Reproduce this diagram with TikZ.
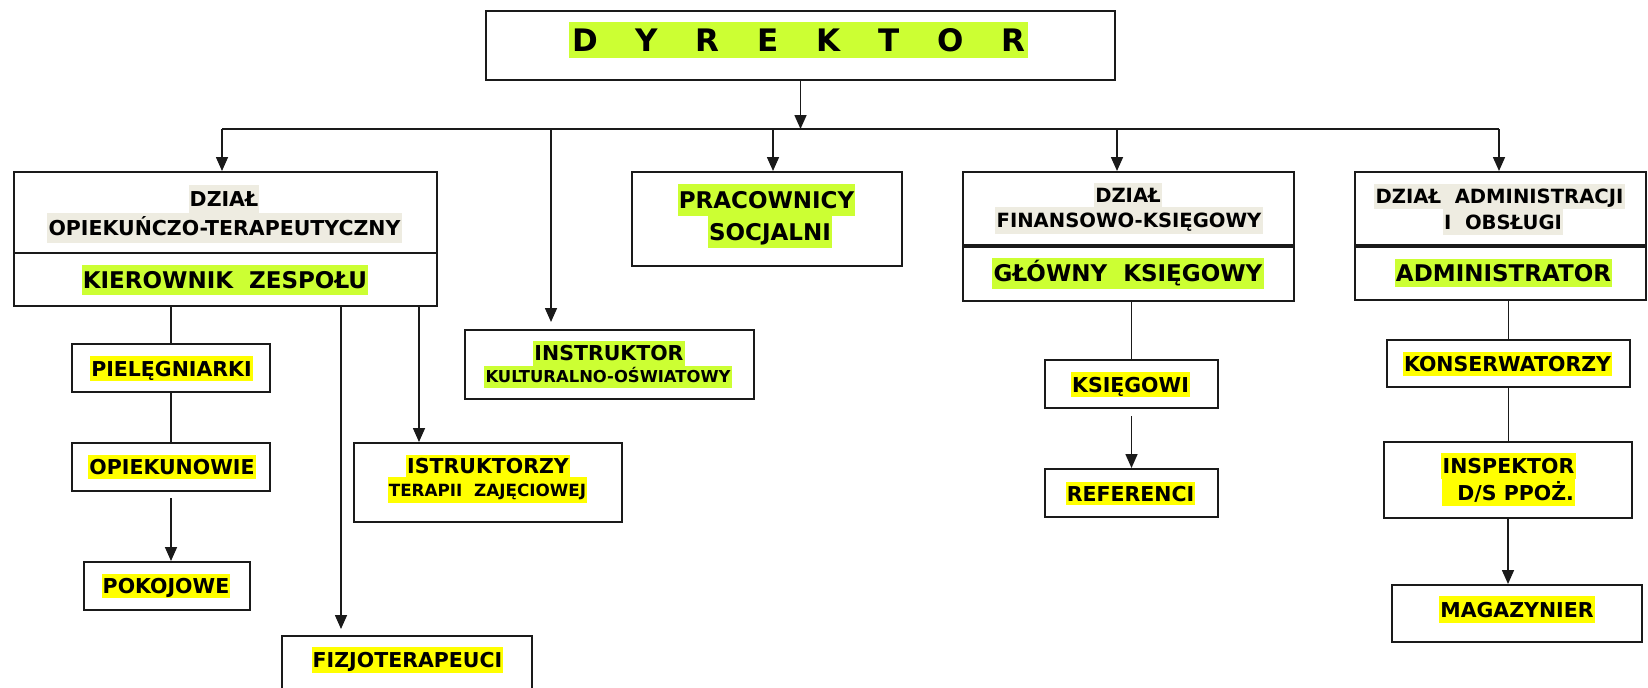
\documentclass[tikz,border=0pt]{standalone}
\usepackage{fontspec}
\setmainfont{DejaVu Sans}
\usetikzlibrary{arrows.meta,fit}
\definecolor{hlLime}{HTML}{CCFF33}
\definecolor{hlYel}{HTML}{FFFF00}
\definecolor{hlTan}{HTML}{EEECE1}
\definecolor{ink}{HTML}{1A1A1A}

\begin{document}
\begin{tikzpicture}[x=0.5pt,y=-0.5pt,
  box/.style={draw=ink, line width=1pt, inner sep=0pt},
  conn/.style={draw=ink, line width=0.8pt},
  arr/.style={conn, -{Triangle[length=7pt,width=6pt]}},
  hl/.style={inner xsep=0.6pt, inner ysep=0pt, text depth=0pt, text=black},
  hh/.style={minimum height=#1*0.5pt},
  onLime/.style={hl, fill=hlLime},
  onYel/.style={hl, fill=hlYel},
  onTan/.style={hl, fill=hlTan},
  fA/.style={font=\bfseries\fontsize{11.5pt}{13pt}\selectfont, text height=8.4pt},
  fB/.style={font=\bfseries\fontsize{10.25pt}{12pt}\selectfont, text height=7.5pt},
  fC/.style={font=\bfseries\fontsize{9.8pt}{12pt}\selectfont, text height=7.15pt},
  fD/.style={font=\bfseries\fontsize{8.4pt}{10pt}\selectfont, text height=6.1pt},
  fE/.style={font=\bfseries\fontsize{8.2pt}{10pt}\selectfont, text height=6pt}
]
\useasboundingbox[fill=white] (0,0) rectangle (1648,687);

% ---------- boxes ----------
\node[box, fit={(486,11) (1115,80)}] (dyr) {};
\node[box, fit={(14,172) (437,306)}] (op) {};
\node[box, fit={(632,172) (902,266)}] (prac) {};
\node[box, fit={(963,172) (1294,301)}] (fin) {};
\node[box, fit={(1355,172) (1646,300)}] (adm) {};
\node[box, fit={(465,330) (754,399)}] (instr) {};
\node[box, fit={(72,344) (270,392)}] (piel) {};
\node[box, fit={(72,443) (270,491)}] (opk) {};
\node[box, fit={(84,562) (250,610)}] (pok) {};
\node[box, fit={(282,636) (532,694)}] (fiz) {};
\node[box, fit={(354,443) (622,522)}] (istr) {};
\node[box, fit={(1045,360) (1218,408)}] (ksg) {};
\node[box, fit={(1045,469) (1218,517)}] (ref) {};
\node[box, fit={(1387,340) (1630,387)}] (kons) {};
\node[box, fit={(1384,442) (1632,518)}] (insp) {};
\node[box, fit={(1392,585) (1642,642)}] (mag) {};

% dividers between department name and its head
\draw[draw=ink, line width=1pt] (op.west |- 0,253) -- (op.east |- 0,253);
\draw[draw=ink, line width=2pt] (fin.west |- 0,246) -- (fin.east |- 0,246);
\draw[draw=ink, line width=2pt] (adm.west |- 0,246) -- (adm.east |- 0,246);

% ---------- labels ----------
\node[onLime, inner sep=0pt, minimum width=229.5pt, minimum height=18pt,
      text height=11.3pt, text depth=0pt,
      font=\bfseries\fontsize{15.5pt}{18pt}\selectfont] (dyrT) at (798.5,40)
  {\makebox[226.5pt]{D\hfill Y\hfill R\hfill E\hfill K\hfill T\hfill O\hfill R}};

\node[onTan, fB, hh=28] (op1) at (224,199) {DZIAŁ};
\node[onTan, fB, hh=30] (op2) at (224.5,228) {OPIEKUŃCZO-TERAPEUTYCZNY};
\node[onLime, fA, hh=30] (op3) at (225,280) {KIEROWNIK\ \ ZESPOŁU};

\node[onLime, fA, hh=32] (prac1) at (766.5,200) {PRACOWNICY};
\node[onLime, fA, hh=32] (prac2) at (770,232) {SOCJALNI};

\node[onTan, fC, hh=24] (fin1) at (1128,195) {DZIAŁ};
\node[onTan, fC, hh=27] (fin2) at (1129,220.5) {FINANSOWO-KSIĘGOWY};
\node[onLime, fA, hh=31] (fin3) at (1128,273.5) {GŁÓWNY\ \ KSIĘGOWY};

\node[onTan, fC, hh=25] (adm1) at (1499.5,196.5) {DZIAŁ\ \ ADMINISTRACJI};
\node[onTan, fC, hh=26] (adm2) at (1503,222) {I\ \ OBSŁUGI};
\node[onLime, fA, hh=28] (adm3) at (1503.5,273) {ADMINISTRATOR};

\node[onLime, fB, hh=24.5] (instr1) at (609,353.25) {INSTRUKTOR};
\node[onLime, fE, hh=22.5] (instr2) at (608,376.75) {KULTURALNO-OŚWIATOWY};

\node[onYel, fB, hh=25] (pielT) at (171.5,368.5) {PIELĘGNIARKI};
\node[onYel, fB, hh=24] (opkT) at (172,467) {OPIEKUNOWIE};
\node[onYel, fB, hh=24] (pokT) at (166,586) {POKOJOWE};
\node[onYel, fB, hh=26] (fizT) at (407.5,660) {FIZJOTERAPEUCI};

\node[onYel, fB, hh=22] (istr1) at (488,466) {ISTRUKTORZY};
\node[onYel, fD, hh=26] (istr2) at (487.5,490) {TERAPII\ \ ZAJĘCIOWEJ};

\node[onYel, fB, hh=25] (ksgT) at (1130.5,384.5) {KSIĘGOWI};
\node[onYel, fB, hh=23] (refT) at (1130.5,493.5) {REFERENCI};

\node[onYel, fB, hh=24] (konsT) at (1507.5,364) {KONSERWATORZY};
\node[onYel, fB, hh=26] (insp1) at (1508.5,466) {INSPEKTOR};
\node[onYel, fB, hh=27] (insp2) at (1508.5,492.5) {\ \ D/S PPOŻ.\ };
\node[onYel, fB, hh=27] (magT) at (1517,609.5) {MAGAZYNIER\ };

% ---------- connectors ----------
\coordinate (busL) at (222,129);
\coordinate (busR) at (1499,129);
\coordinate (busI) at (551,129);
\coordinate (busP) at (773,129);
\coordinate (busF) at (1117,129);
\draw[conn] (busL) -- (busR);
\draw[arr] (dyr.south) -- (dyr.south |- busL);
\draw[arr] (busL) -- (busL |- op.north);
\draw[arr, shorten >=3.5pt] (busI) -- (busI |- instr.north);
\draw[arr] (busP) -- (busP |- prac.north);
\draw[arr] (busF) -- (busF |- fin.north);
\draw[arr] (busR) -- (busR |- adm.north);

% care and therapy department
\coordinate (opF) at (341,0 |- op.south);
\coordinate (opI) at (419,0 |- op.south);
\draw[conn] (op.south -| piel.north) -- (piel.north);
\draw[conn] (piel.south) -- (opk.north);
\draw[arr] ([yshift=-3pt]opk.south) -- (opk.south |- pok.north);
\draw[arr, shorten >=3pt] (opF) -- (opF |- fiz.north);
\draw[arr] (opI) -- (opI |- istr.north);

% finance department
\draw[conn] (fin.south -| ksg.north) -- (ksg.north);
\draw[arr] ([yshift=-3.5pt]ksg.south) -- (ref.north);

% administration department
\draw[conn] (adm.south -| kons.north) -- (kons.north);
\draw[conn] (kons.south) -- (kons.south |- insp.north);
\draw[arr] (insp.south) -- (insp.south |- mag.north);
\end{tikzpicture}
\end{document}
